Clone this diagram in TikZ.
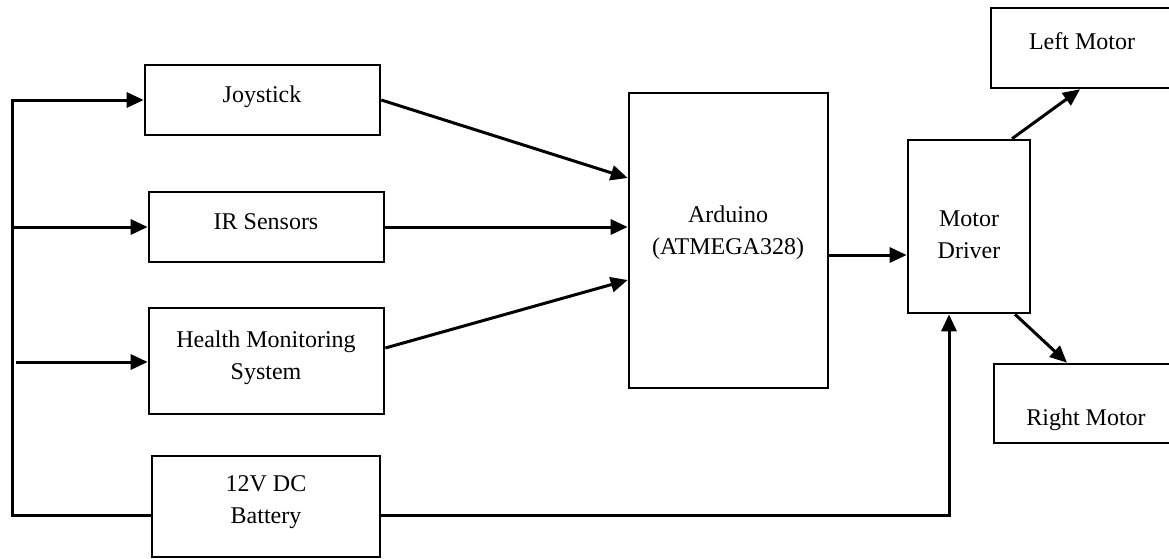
\documentclass[tikz,border=0pt]{standalone}
\usepackage{fontspec}
\setmainfont{Liberation Serif}
\usetikzlibrary{arrows.meta,positioning}
\begin{document}
\begin{tikzpicture}[x=1pt,y=-1pt,
  box/.style={draw,line width=2.6pt,rectangle,inner sep=0pt},
  lbl/.style={font=\fontsize{24}{30}\selectfont,align=center,inner sep=0pt},
  conn/.style={line width=3pt},
  arr/.style={conn,-{Triangle[length=17pt,width=15pt]}}]
\useasboundingbox (0,0) rectangle (1169,558);
\clip (0,0) rectangle (1169,558);
% boxes
\node[box,minimum width=235pt,minimum height=70pt] (joy) at (262.5,100) {};
\node[box,minimum width=235pt,minimum height=70pt] (ir) at (266.5,227) {};
\node[box,minimum width=235pt,minimum height=106pt] (hm) at (266.5,361) {};
\node[box,minimum width=228pt,minimum height=101pt] (bat) at (266,506.5) {};
\node[box,minimum width=199pt,minimum height=295pt] (ard) at (728.5,240.5) {};
\node[box,minimum width=122pt,minimum height=173pt] (md) at (969,226.5) {};
\node[box,minimum width=200pt,minimum height=80pt] (lm) at (1091,48) {};
\node[box,minimum width=200pt,minimum height=79pt] (rm) at (1094,403.5) {};
% labels
\node[lbl] (tjoy) at (262,97) {Joystick};
\node[lbl] (tir) at (266,222) {IR Sensors};
\node[lbl] (thm) at (266,358) {Health Monitoring\\[2pt]System};
\node[lbl] (tbat) at (266,502) {12V DC\\[2pt]Battery};
\node[lbl] (tard) at (728,233) {Arduino\\[2pt](ATMEGA328)};
\node[lbl] (tmd) at (969,235) {Motor\\[2pt]Driver};
\node[lbl] (tlm) at (1082,41) {Left Motor};
\node[lbl] (trm) at (1086,420) {Right Motor};
% coordinates
\coordinate (bTop) at (12,100);
\coordinate (bIR) at (12,227);
\coordinate (bBot) at (12,515);
\coordinate (hmStart) at (16,362);
\coordinate (batR) at (949,515);
% connectors
\draw[arr] (bTop) -- (joy.west |- bTop);
\draw[conn,line cap=rect] (bTop) -- (bBot) -- (bat.west |- bBot);
\draw[arr] (bIR) -- (ir.west |- bIR);
\draw[arr] (hmStart) -- (hm.west |- hmStart);
\draw[arr] (joy.east |- 0,100) -- (ard.west |- 0,178);
\draw[arr] (ir.east) -- (ard.west |- ir.east);
\draw[arr] (hm.east |- 0,348) -- (ard.west |- 0,280);
\draw[arr] (ard.east |- 0,255) -- (md.west |- 0,255);
\draw[arr] (bat.east |- batR) -- (batR) -- (md.south -| batR);
\draw[arr] (md.north -| 1012,0) -- (lm.south -| 1080,0);
\draw[arr] (md.south -| 1015,0) -- (rm.north -| 1067,0);
\end{tikzpicture}
\end{document}
